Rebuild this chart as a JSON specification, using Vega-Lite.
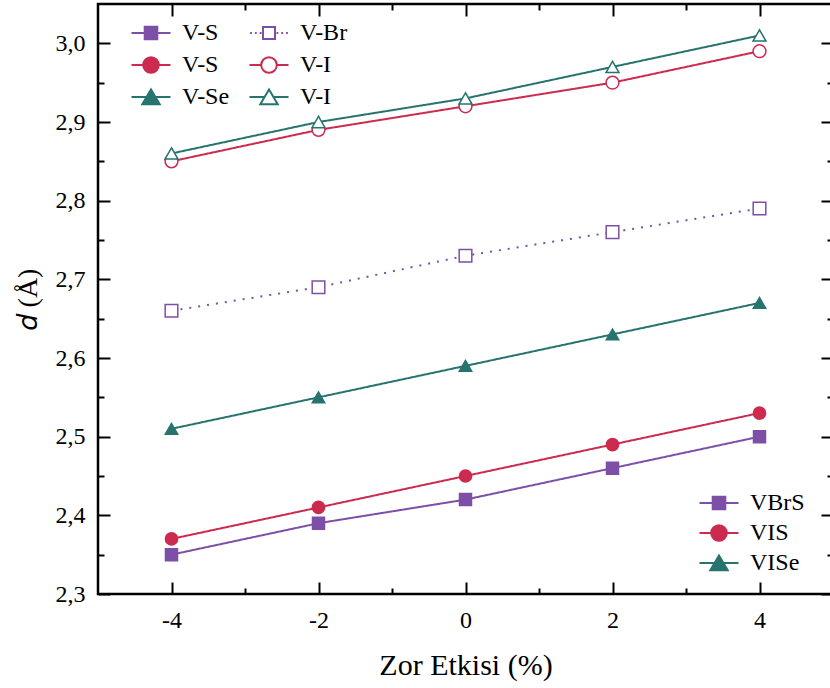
{
  "$schema": "https://vega.github.io/schema/vega-lite/v6.json",
  "width": 735,
  "height": 590,
  "autosize": "none",
  "padding": {"left": 98, "top": 4, "right": 0, "bottom": 94},
  "background": "white",
  "config": {
    "view": {"stroke": "black", "strokeWidth": 2.5},
    "font": "Liberation Serif, Times New Roman, serif",
    "axis": {
      "domain": false,
      "grid": false,
      "tickColor": "black",
      "tickWidth": 2,
      "labelFont": "Liberation Serif, Times New Roman, serif",
      "labelFontSize": 24,
      "labelColor": "black",
      "titleFont": "Liberation Serif, Times New Roman, serif",
      "titleFontWeight": "normal",
      "titleColor": "black"
    },
    "legend": {
      "labelFont": "Liberation Serif, Times New Roman, serif",
      "labelFontSize": 24,
      "labelColor": "black",
      "padding": 0
    }
  },
  "data": {
    "values": [
      {"compound": "VBrS", "bond": "V-S", "series": "VBrS V-S", "x": -4, "d": 2.35},
      {"compound": "VBrS", "bond": "V-S", "series": "VBrS V-S", "x": -2, "d": 2.39},
      {"compound": "VBrS", "bond": "V-S", "series": "VBrS V-S", "x": 0, "d": 2.42},
      {"compound": "VBrS", "bond": "V-S", "series": "VBrS V-S", "x": 2, "d": 2.46},
      {"compound": "VBrS", "bond": "V-S", "series": "VBrS V-S", "x": 4, "d": 2.50},
      {"compound": "VBrS", "bond": "V-Br", "series": "VBrS V-Br", "x": -4, "d": 2.66},
      {"compound": "VBrS", "bond": "V-Br", "series": "VBrS V-Br", "x": -2, "d": 2.69},
      {"compound": "VBrS", "bond": "V-Br", "series": "VBrS V-Br", "x": 0, "d": 2.73},
      {"compound": "VBrS", "bond": "V-Br", "series": "VBrS V-Br", "x": 2, "d": 2.76},
      {"compound": "VBrS", "bond": "V-Br", "series": "VBrS V-Br", "x": 4, "d": 2.79},
      {"compound": "VIS", "bond": "V-S", "series": "VIS V-S", "x": -4, "d": 2.37},
      {"compound": "VIS", "bond": "V-S", "series": "VIS V-S", "x": -2, "d": 2.41},
      {"compound": "VIS", "bond": "V-S", "series": "VIS V-S", "x": 0, "d": 2.45},
      {"compound": "VIS", "bond": "V-S", "series": "VIS V-S", "x": 2, "d": 2.49},
      {"compound": "VIS", "bond": "V-S", "series": "VIS V-S", "x": 4, "d": 2.53},
      {"compound": "VIS", "bond": "V-I", "series": "VIS V-I", "x": -4, "d": 2.85},
      {"compound": "VIS", "bond": "V-I", "series": "VIS V-I", "x": -2, "d": 2.89},
      {"compound": "VIS", "bond": "V-I", "series": "VIS V-I", "x": 0, "d": 2.92},
      {"compound": "VIS", "bond": "V-I", "series": "VIS V-I", "x": 2, "d": 2.95},
      {"compound": "VIS", "bond": "V-I", "series": "VIS V-I", "x": 4, "d": 2.99},
      {"compound": "VISe", "bond": "V-Se", "series": "VISe V-Se", "x": -4, "d": 2.51},
      {"compound": "VISe", "bond": "V-Se", "series": "VISe V-Se", "x": -2, "d": 2.55},
      {"compound": "VISe", "bond": "V-Se", "series": "VISe V-Se", "x": 0, "d": 2.59},
      {"compound": "VISe", "bond": "V-Se", "series": "VISe V-Se", "x": 2, "d": 2.63},
      {"compound": "VISe", "bond": "V-Se", "series": "VISe V-Se", "x": 4, "d": 2.67},
      {"compound": "VISe", "bond": "V-I", "series": "VISe V-I", "x": -4, "d": 2.86},
      {"compound": "VISe", "bond": "V-I", "series": "VISe V-I", "x": -2, "d": 2.90},
      {"compound": "VISe", "bond": "V-I", "series": "VISe V-I", "x": 0, "d": 2.93},
      {"compound": "VISe", "bond": "V-I", "series": "VISe V-I", "x": 2, "d": 2.97},
      {"compound": "VISe", "bond": "V-I", "series": "VISe V-I", "x": 4, "d": 3.01}
    ]
  },
  "layer": [
    {
      "description": "Connecting lines; bottom and left axes with major ticks and labels",
      "mark": {"type": "line", "strokeWidth": 2},
      "encoding": {
        "x": {
          "field": "x", "type": "quantitative",
          "scale": {"domain": [-5, 5], "nice": false},
          "axis": {
            "orient": "bottom", "values": [-4, -2, 0, 2, 4], "tickSize": -12,
            "labelPadding": 26, "labelExpr": "replace(datum.label, '\u2212', '-')",
            "title": "Zor Etkisi (%)", "titleFontSize": 30, "titlePadding": 18
          }
        },
        "y": {
          "field": "d", "type": "quantitative",
          "scale": {"domain": [2.3, 3.05], "nice": false, "zero": false},
          "axis": {
            "orient": "left", "values": [2.3, 2.4, 2.5, 2.6, 2.7, 2.8, 2.9, 3.0], "tickSize": -12,
            "labelPadding": 25, "labelExpr": "replace(format(datum.value, '.1f'), '.', ',')",
            "title": "\ud835\udc51 (\u00c5)", "titleFontSize": 28, "titlePadding": 13
          }
        },
        "stroke": {
          "field": "series", "type": "nominal",
          "scale": {
            "domain": ["VBrS V-S", "VIS V-S", "VISe V-Se", "VBrS V-Br", "VIS V-I", "VISe V-I"],
            "range": ["#7d4fa6", "#cc2a4f", "#27746f", "#7d4fa6", "#cc2a4f", "#27746f"]
          },
          "legend": null
        },
        "strokeDash": {
          "field": "series", "type": "nominal",
          "scale": {
            "domain": ["VBrS V-S", "VIS V-S", "VISe V-Se", "VBrS V-Br", "VIS V-I", "VISe V-I"],
            "range": [[1, 0], [1, 0], [1, 0], [2, 7], [1, 0], [1, 0]]
          },
          "legend": null
        }
      }
    },
    {
      "description": "Data markers; bottom and left minor ticks",
      "mark": {"type": "point", "filled": false, "opacity": 1, "strokeWidth": 1.5},
      "encoding": {
        "x": {
          "field": "x", "type": "quantitative",
          "axis": {"orient": "bottom", "values": [-3, -1, 1, 3], "tickSize": -6, "labels": false, "title": null}
        },
        "y": {
          "field": "d", "type": "quantitative",
          "axis": {"orient": "left", "values": [2.35, 2.45, 2.55, 2.65, 2.75, 2.85, 2.95], "tickSize": -6, "labels": false, "title": null}
        },
        "shape": {
          "field": "series", "type": "nominal",
          "scale": {
            "domain": ["VBrS V-S", "VIS V-S", "VISe V-Se", "VBrS V-Br", "VIS V-I", "VISe V-I"],
            "range": ["square", "circle", "triangle-up", "square", "circle", "triangle-up"]
          },
          "legend": null
        },
        "stroke": {
          "field": "series", "type": "nominal",
          "scale": {
            "domain": ["VBrS V-S", "VIS V-S", "VISe V-Se", "VBrS V-Br", "VIS V-I", "VISe V-I"],
            "range": ["#7d4fa6", "#cc2a4f", "#27746f", "#7d4fa6", "#cc2a4f", "#27746f"]
          },
          "legend": null
        },
        "fill": {
          "field": "series", "type": "nominal",
          "scale": {
            "domain": ["VBrS V-S", "VIS V-S", "VISe V-Se", "VBrS V-Br", "VIS V-I", "VISe V-I"],
            "range": ["#7d4fa6", "#cc2a4f", "#27746f", "white", "white", "white"]
          },
          "legend": null
        },
        "size": {
          "field": "series", "type": "nominal",
          "scale": {
            "domain": ["VBrS V-S", "VIS V-S", "VISe V-Se", "VBrS V-Br", "VIS V-I", "VISe V-I"],
            "range": [144, 169, 256, 121, 196, 256]
          },
          "legend": null
        }
      }
    },
    {
      "description": "Bond legend (line + marker keys); top and right major ticks",
      "mark": {"type": "point", "filled": false, "opacity": 0, "strokeWidth": 2},
      "encoding": {
        "x": {
          "field": "x", "type": "quantitative",
          "axis": {"orient": "top", "values": [-4, -2, 0, 2, 4], "tickSize": -12, "labels": false, "title": null}
        },
        "y": {
          "field": "d", "type": "quantitative",
          "axis": {"orient": "right", "values": [2.3, 2.4, 2.5, 2.6, 2.7, 2.8, 2.9, 3.0], "tickSize": -12, "labels": false, "title": null}
        },
        "shape": {
          "field": "series", "type": "nominal",
          "scale": {
            "domain": ["VBrS V-S", "VIS V-S", "VISe V-Se", "VBrS V-Br", "VIS V-I", "VISe V-I"],
            "range": [
              "M-3.25,0H3.25M-1.05,-1.05H1.05V1.05H-1.05Z",
              "M-3.25,0H3.25M1.3,0A1.3,1.3,0,1,1,-1.3,0A1.3,1.3,0,1,1,1.3,0Z",
              "M-3.25,0H3.25M0,-1.25L1.45,1.2L-1.45,1.2Z",
              "M-3.15,0H-2.85M-2.35,0H-2.05M-1.55,0H-1.25M1.25,0H1.55M2.05,0H2.35M2.85,0H3.15M-1,-1H1V1H-1Z",
              "M-3.25,0H-1.3M1.3,0H3.25M1.3,0A1.3,1.3,0,1,1,-1.3,0A1.3,1.3,0,1,1,1.3,0Z",
              "M-3.25,0H-0.72M0.72,0H3.25M0,-1.25L1.45,1.2L-1.45,1.2Z"
            ]
          },
          "legend": {
            "orient": "none", "legendX": 41, "legendY": 17, "columns": 2, "title": null,
            "symbolSize": 144, "symbolStrokeWidth": 2, "symbolOpacity": 1,
            "labelOffset": 19, "rowPadding": 8, "columnPadding": 15,
            "labelExpr": "split(datum.label, ' ')[1]"
          }
        },
        "stroke": {
          "field": "series", "type": "nominal",
          "scale": {
            "domain": ["VBrS V-S", "VIS V-S", "VISe V-Se", "VBrS V-Br", "VIS V-I", "VISe V-I"],
            "range": ["#7d4fa6", "#cc2a4f", "#27746f", "#7d4fa6", "#cc2a4f", "#27746f"]
          },
          "legend": {
            "orient": "none", "legendX": 41, "legendY": 17, "columns": 2, "title": null,
            "symbolSize": 144, "symbolStrokeWidth": 2, "symbolOpacity": 1,
            "labelOffset": 19, "rowPadding": 8, "columnPadding": 15,
            "labelExpr": "split(datum.label, ' ')[1]"
          }
        },
        "fill": {
          "field": "series", "type": "nominal",
          "scale": {
            "domain": ["VBrS V-S", "VIS V-S", "VISe V-Se", "VBrS V-Br", "VIS V-I", "VISe V-I"],
            "range": ["#7d4fa6", "#cc2a4f", "#27746f", "white", "white", "white"]
          },
          "legend": {
            "orient": "none", "legendX": 41, "legendY": 17, "columns": 2, "title": null,
            "symbolSize": 144, "symbolStrokeWidth": 2, "symbolOpacity": 1,
            "labelOffset": 19, "rowPadding": 8, "columnPadding": 15,
            "labelExpr": "split(datum.label, ' ')[1]"
          }
        }
      }
    },
    {
      "description": "Compound legend; top and right minor ticks",
      "mark": {"type": "point", "filled": false, "opacity": 0, "strokeWidth": 2},
      "encoding": {
        "x": {
          "field": "x", "type": "quantitative",
          "axis": {"orient": "top", "values": [-3, -1, 1, 3], "tickSize": -6, "labels": false, "title": null}
        },
        "y": {
          "field": "d", "type": "quantitative",
          "axis": {"orient": "right", "values": [2.35, 2.45, 2.55, 2.65, 2.75, 2.85, 2.95], "tickSize": -6, "labels": false, "title": null}
        },
        "shape": {
          "field": "compound", "type": "nominal",
          "scale": {
            "domain": ["VBrS", "VIS", "VISe"],
            "range": [
              "M-3.25,0H3.25M-1.05,-1.05H1.05V1.05H-1.05Z",
              "M-3.25,0H3.25M1.3,0A1.3,1.3,0,1,1,-1.3,0A1.3,1.3,0,1,1,1.3,0Z",
              "M-3.25,0H3.25M0,-1.25L1.45,1.2L-1.45,1.2Z"
            ]
          },
          "legend": {
            "orient": "none", "legendX": 609, "legendY": 487, "title": null,
            "symbolSize": 144, "symbolStrokeWidth": 2, "symbolOpacity": 1,
            "labelOffset": 19, "rowPadding": 6
          }
        },
        "stroke": {
          "field": "compound", "type": "nominal",
          "scale": {"domain": ["VBrS", "VIS", "VISe"], "range": ["#7d4fa6", "#cc2a4f", "#27746f"]},
          "legend": {
            "orient": "none", "legendX": 609, "legendY": 487, "title": null,
            "symbolSize": 144, "symbolStrokeWidth": 2, "symbolOpacity": 1,
            "labelOffset": 19, "rowPadding": 6
          }
        },
        "fill": {
          "field": "compound", "type": "nominal",
          "scale": {"domain": ["VBrS", "VIS", "VISe"], "range": ["#7d4fa6", "#cc2a4f", "#27746f"]},
          "legend": {
            "orient": "none", "legendX": 609, "legendY": 487, "title": null,
            "symbolSize": 144, "symbolStrokeWidth": 2, "symbolOpacity": 1,
            "labelOffset": 19, "rowPadding": 6
          }
        }
      }
    }
  ],
  "resolve": {
    "scale": {"shape": "independent", "stroke": "independent", "fill": "independent", "size": "independent", "strokeDash": "independent"},
    "axis": {"x": "independent", "y": "independent"}
  }
}
